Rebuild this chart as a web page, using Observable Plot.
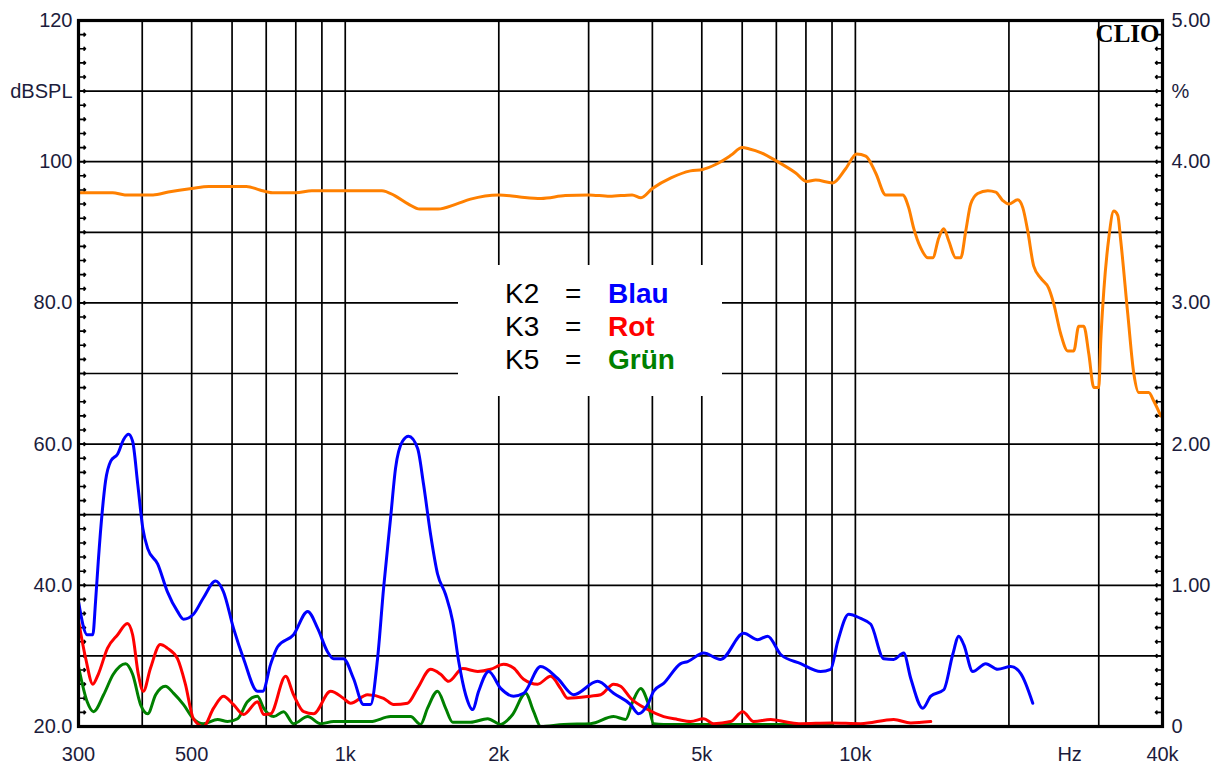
<!DOCTYPE html>
<html>
<head>
<meta charset="utf-8">
<script src="https://cdn.jsdelivr.net/npm/d3@7"></script>
<script src="https://cdn.jsdelivr.net/npm/@observablehq/plot@0.6"></script>
<style>
  html, body { margin: 0; padding: 0; background: #fff; }
  #wrap { position: relative; width: 1223px; height: 769px; }
  #legend { position: absolute; left: 458px; top: 265px; width: 264px; height: 131px; background: #fff;
            font-family: Arial, "Liberation Sans", sans-serif; font-size: 28px; line-height: 33px; }
  #legend .row { position: absolute; left: 0; width: 264px; height: 33px; }
  #legend span { position: absolute; top: 0; white-space: nowrap; }
  #legend .k { left: 47px; color: #000; }
  #legend .eq { left: 107px; color: #000; }
  #legend .c { left: 150px; font-weight: bold; }
</style>
</head>
<body>
<div id="wrap"></div>
<script>
// ---- Data (frequency in Hz, level in dBSPL) ----
const splFreq = [300,350,370,420,450,500,540,640,680,720,800,860,1000,1180,1250,1330,1400,1520,1650,1760,2000,2200,2420,2700,3000,3300,3650,3800,4000,4350,4750,5020,5320,5700,6000,6200,6520,7000,7640,8030,8360,9030,9570,10060,10480,10960,11470,12380,12720,13010,13430,13870,14180,14570,14900,15240,15730,16090,16460,16830,17370,18180,18840,19450,19980,20810,21290,21770,22370,23090,23930,24480,25270,26080,26800,27410,28040,28680,29340,30000,30270,30690,31390,32100,32690,33130,34200,35140,35940,37590,38450,39680];
const splDb   = [95.6,95.6,95.3,95.3,95.7,96.2,96.5,96.5,96.0,95.6,95.6,95.9,95.9,95.9,95.2,94.0,93.3,93.3,94.0,94.7,95.3,95.0,94.8,95.2,95.3,95.1,95.3,94.9,96.2,97.7,98.7,98.9,99.6,100.9,102.0,101.8,101.3,100.1,98.4,97.2,97.4,97.0,99.0,101.1,100.8,98.4,95.3,95.3,93.5,90.6,87.8,86.4,86.4,89.2,90.5,88.8,86.4,86.4,90.2,94.0,95.5,95.9,95.7,94.5,94.0,94.6,93.5,90.2,85.2,83.5,82.1,79.9,75.6,73.2,73.2,76.7,76.7,72.8,68.0,68.0,74.6,81.7,89.2,93.0,92.4,88.8,78.4,70.0,67.3,67.3,66.1,64.0];

const k2Freq = [300,312,320,324,328,334,339,347,358,368,376,383,392,401,410,429,448,469,482,504,527,557,577,604,632,673,689,714,737,792,844,883,923,949,992,1038,1086,1121,1157,1189,1227,1255,1295,1331,1386,1424,1470,1517,1573,1624,1669,1722,1777,1826,1911,2017,2138,2237,2416,2609,2804,3124,3358,3627,3759,3916,4023,4209,4545,4691,5042,5444,6041,6435,6732,7139,7813,8550,8945,9232,9702,10244,10717,11365,11888,12437,12841,13555,14054,14903,15519,15947,16311,16986,18013,19016,20166,21098,22271];
const k2Db   = [37.7,33.0,33.0,37.7,43.4,50.5,54.8,57.6,58.6,60.7,61.4,60.4,54.3,48.1,45.2,43.0,39.1,36.3,35.2,35.9,38.2,40.6,39.1,33.9,29.6,25.0,25.0,28.8,31.3,33.0,36.3,33.9,30.6,29.6,29.6,26.8,23.1,23.1,29.6,39.6,49.5,56.6,60.4,61.1,59.4,54.3,47.2,41.6,38.7,34.9,29.2,24.5,22.4,25.0,27.8,25.4,24.3,24.7,28.5,26.8,24.5,26.4,24.7,23.1,21.8,23.1,25.0,26.1,28.9,29.2,30.4,29.5,33.2,32.3,32.8,30.2,28.9,27.8,28.1,32.0,35.9,35.3,34.5,29.6,29.5,30.4,26.8,22.6,24.3,25.2,30.2,32.8,31.6,27.8,28.9,28.1,28.5,27.5,23.3];

const k3Freq = [300,310,320,328,342,358,374,383,393,402,415,434,448,469,486,504,527,552,577,604,632,673,692,714,764,792,829,867,936,992,1024,1106,1189,1244,1325,1386,1470,1538,1595,1699,1818,1928,2044,2138,2237,2383,2527,2643,2728,3027,3167,3358,3466,3627,3916,4209,4483,4755,5042,5275,5695,6013,6319,6826,7369,7813,8945,10244,11888,12841,14054];
const k3Db   = [35.0,29.6,26.0,27.4,31.1,33.0,34.6,33.0,27.4,25.0,28.2,31.6,31.1,29.6,26.0,21.1,20.0,22.6,24.3,23.1,21.7,23.5,21.7,21.8,27.1,24.5,22.1,21.8,25.0,24.0,23.3,24.5,24.0,23.1,23.3,25.4,28.1,27.4,26.4,28.2,27.8,28.1,28.8,28.3,26.7,26.0,27.1,25.4,24.0,24.3,24.5,26.0,25.7,24.0,22.4,21.4,21.0,20.7,21.1,20.4,20.7,22.1,20.7,21.0,20.6,20.4,20.5,20.4,21.0,20.5,20.7];

const k5Freq = [300,312,321,336,351,371,383,397,410,425,444,461,482,504,527,562,588,615,643,673,692,724,757,792,844,895,949,1121,1227,1343,1405,1450,1517,1573,1624,1761,1902,2017,2129,2257,2341,2416,2680,3027,3358,3545,3659,3794,3916,4023,4209,4974,6522,9028];
const k5Db   = [28.5,23.5,22.1,24.5,27.4,28.9,27.4,23.1,21.8,24.5,25.7,24.7,23.1,21.1,20.4,21.0,20.7,21.1,23.5,24.3,22.6,21.4,22.1,20.4,21.4,20.4,20.7,20.7,21.4,21.4,20.3,22.6,25.0,22.6,20.6,20.6,21.1,20.3,21.7,24.7,22.1,20.0,20.3,20.4,21.4,21.0,23.5,25.4,23.5,20.4,20.3,20.3,20.3,20.3];

// ---- Ticks / grid ----
const gridFreq = [400,500,600,700,800,900,1000,2000,3000,4000,5000,6000,7000,8000,9000,10000,20000,30000];
const gridDb = [30,40,50,60,70,80,90,100,110];
const minorDb = d3.range(22, 120, 2);
const xTicks  = [300,500,1000,2000,5000,10000,26300,40000];
const xLabels = ["300","500","1k","2k","5k","10k","Hz","40k"];
const yTicks  = [20,40,60,80,100,110,120];
const yLabelsLeft  = ["20.0","40.0","60.0","80.0","100","dBSPL","120"];
const yLabelsRight = ["0","1.00","2.00","3.00","4.00","%","5.00"];

const series = [
  {name: "SPL", freq: splFreq, db: splDb, color: "#ff8000"},
  {name: "K2",  freq: k2Freq,  db: k2Db,  color: "#0000ff"},
  {name: "K3",  freq: k3Freq,  db: k3Db,  color: "#ff0000"},
  {name: "K5",  freq: k5Freq,  db: k5Db,  color: "#008000"}
];
const legendRows = [
  {k: "K2", word: "Blau", color: "#0000ff"},
  {k: "K3", word: "Rot",  color: "#ff0000"},
  {k: "K5", word: "Grün", color: "#008000"}
];

const toRows = s => s.freq.map((f, i) => ({f, v: s.db[i]}));
const fmt = (ticks, labels) => d => labels[ticks.indexOf(d)] ?? "";
const labelColor = "#1c1c3c";

const lineMarks = [series[3], series[2], series[1], series[0]].map(s =>
  Plot.line(toRows(s), {x: "f", y: "v", stroke: s.color, strokeWidth: 3, curve: "monotone-x"}));

const chart = Plot.plot({
  width: 1223,
  height: 769,
  marginLeft: 78,
  marginRight: 61,
  marginTop: 20,
  marginBottom: 43,
  style: {fontFamily: "Arial, 'Liberation Sans', sans-serif", fontSize: "20px", background: "#fff"},
  x: {type: "log", domain: [300, 40000]},
  y: {domain: [20, 120]},
  marks: [
    Plot.ruleX(gridFreq, {stroke: "#000", strokeWidth: 1.7}),
    Plot.ruleY(gridDb, {stroke: "#000", strokeWidth: 1.7}),
    Plot.axisX({ticks: xTicks, tickFormat: fmt(xTicks, xLabels), tickSize: 0, tickPadding: 20, label: null, fill: labelColor}),
    Plot.axisY({anchor: "left", ticks: yTicks, tickFormat: fmt(yTicks, yLabelsLeft), tickSize: 0, tickPadding: 6, label: null, fill: labelColor}),
    Plot.axisY({anchor: "right", ticks: yTicks, tickFormat: fmt(yTicks, yLabelsRight), tickSize: 0, tickPadding: 9, label: null, fill: labelColor}),
    // minor inward ticks on both vertical axes
    Plot.vector(minorDb, {y: d => d, frameAnchor: "left", length: 7, rotate: 90, anchor: "start", stroke: "#000", strokeWidth: 1.6}),
    Plot.vector(minorDb, {y: d => d, frameAnchor: "right", length: 7, rotate: -90, anchor: "start", stroke: "#000", strokeWidth: 1.6}),
    ...lineMarks,
    Plot.frame({stroke: "#000", strokeWidth: 3.2}),
    Plot.text(["CLIO"], {frameAnchor: "top-right", dx: -3, dy: 4, lineAnchor: "top", textAnchor: "end",
      fontFamily: "'Liberation Serif', 'DejaVu Serif', serif", fontWeight: "bold", fontSize: 25, fill: "#000"})
  ]
});

const wrap = document.getElementById("wrap");
wrap.appendChild(chart);

// Legend box drawn over the grid (white background hides the grid lines behind it)
const legend = document.createElement("div");
legend.id = "legend";
legendRows.forEach((r, i) => {
  const row = document.createElement("div");
  row.className = "row";
  row.style.top = (12 + i * 33) + "px";
  row.innerHTML = `<span class="k">${r.k}</span><span class="eq">=</span><span class="c" style="color:${r.color}">${r.word}</span>`;
  legend.appendChild(row);
});
wrap.appendChild(legend);
</script>
</body>
</html>
